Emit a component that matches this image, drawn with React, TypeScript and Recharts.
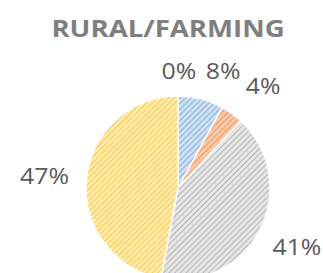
import { PieChart, Pie, Cell } from 'recharts'

const CATEGORIES = ['None', 'Blue', 'Orange', 'Gray', 'Yellow']
const VALUES = [0, 8, 4, 41, 47]
// hatch colours: [background, stripe]
const HATCH: [string, string][] = [
  ['#cfe0f3', '#5b9bd5'],
  ['#cfe0f3', '#6fa5dc'],
  ['#f8cbad', '#ee8a4a'],
  ['#e6e6e6', '#a9a9a9'],
  ['#ffeaa8', '#f6c445'],
]
// how far each label sits outside the pie, and a sideways nudge (Excel-style overlap avoidance)
const LABEL_PUSH = [25, 29, 34, 37, 40]
const LABEL_DX = [1, 15, 11, 4, -2]

const RAD = Math.PI / 180

const data = CATEGORIES.map((name, i) => ({ name, value: VALUES[i] }))

function renderLabel(props: any) {
  const { cx, cy, midAngle, outerRadius, index, value } = props
  const r = outerRadius + LABEL_PUSH[index]
  const x = cx + r * Math.cos(-midAngle * RAD) + LABEL_DX[index]
  const y = cy + r * Math.sin(-midAngle * RAD)
  return (
    <text
      transform={`translate(${x} ${y}) scale(1.13 1)`}
      x={0}
      y={0}
      textAnchor="middle"
      dominantBaseline="central"
      fill="#595959"
      fontSize={22}
      fontFamily="'Open Sans', sans-serif"
    >
      {`${value}%`}
    </text>
  )
}

export default function App() {
  return (
    <div style={{ position: 'absolute', left: 0, top: 0, width: 323, height: 273, background: '#fff' }}>
      <svg width={323} height={273} style={{ position: 'absolute', left: 0, top: 0 }}>
        <defs>
          {HATCH.map(([bg, fg], i) => (
            <pattern
              key={i}
              id={`hatch${i}`}
              width={4}
              height={4}
              patternUnits="userSpaceOnUse"
              patternTransform="rotate(45)"
            >
              <rect width={4} height={4} fill={bg} />
              <line x1={0} y1={0} x2={0} y2={4} stroke={fg} strokeWidth={1.6} />
            </pattern>
          ))}
        </defs>
        <text
          transform="translate(168 37) scale(1.2 1)"
          x={0}
          y={0}
          textAnchor="middle"
          fill="#7f7f7f"
          fontSize={23}
          fontWeight={700}
          fontFamily="'Open Sans', sans-serif"
        >
          RURAL/FARMING
        </text>
      </svg>
      <div style={{ position: 'absolute', left: 0, top: 0 }}>
        <PieChart width={323} height={273}>
          <Pie
            data={data}
            dataKey="value"
            cx={173}
            cy={183}
            outerRadius={92}
            startAngle={90}
            endAngle={-270}
            stroke="#fff"
            strokeWidth={1.5}
            label={renderLabel}
            labelLine={false}
            isAnimationActive={false}
          >
            {data.map((d, i) => (
              <Cell key={d.name} fill={`url(#hatch${i})`} />
            ))}
          </Pie>
        </PieChart>
      </div>
    </div>
  )
}
